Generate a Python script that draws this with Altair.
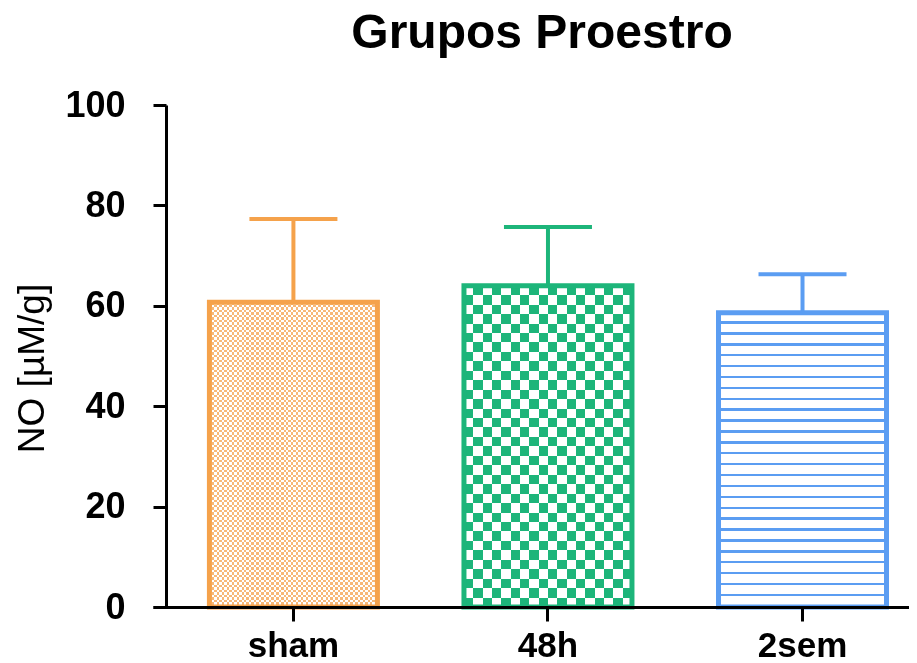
import altair as alt
import pandas as pd

# ---- data ----
groups = ["sham", "48h", "2sem"]
means = [60.7, 64.0, 58.6]
sems = [16.6, 11.7, 7.7]
colors = ["#F5A24B", "#1DB57A", "#5B9DF2"]
y_ticks = [0, 20, 40, 60, 80, 100]

df = pd.DataFrame({"group": groups, "mean": means, "sem": sems})
df["top"] = df["mean"] + df["sem"]

FONT = "Liberation Sans"


def stripes(n, a, b, frac_b, direction):
    stops = []
    for k in range(n):
        s = round(k / n, 5)
        m = round((k + 1 - frac_b) / n, 5)
        e = round((k + 1) / n, 5)
        stops += [
            {"offset": s, "color": a},
            {"offset": m, "color": a},
            {"offset": m, "color": b},
            {"offset": e, "color": b},
        ]
    return {
        "gradient": "linear",
        "stops": stops,
        "x1": 0,
        "y1": 0,
        "x2": 1 if direction == "x" else 0,
        "y2": 1 if direction == "y" else 0,
    }


xaxis = alt.Axis(
    labelAngle=0, tickSize=14, tickWidth=3, tickColor="black",
    domainWidth=3, domainColor="black", labelFontSize=35,
    labelFontWeight="bold", labelFont=FONT, labelColor="black",
    labelPadding=7, title=None, zindex=1,
)
yaxis = alt.Axis(
    values=y_ticks, offset=-13, tickSize=13, tickWidth=3, tickColor="black",
    domainWidth=3, domainColor="black", labelFontSize=36,
    labelFontWeight="bold", labelFont=FONT, labelColor="black",
    labelPadding=28, title="NO [µM/g]", titleFontSize=37,
    titleFontWeight="normal", titleFont=FONT, titleColor="black",
    titlePadding=13, grid=False, zindex=1, titleY=263,
)

X = alt.X("group:N", sort=groups,
          scale=alt.Scale(paddingInner=0.34, paddingOuter=0.155, align=0.715),
          axis=xaxis)
Y = alt.Y("mean:Q", scale=alt.Scale(domain=[0, 100], nice=False), axis=yaxis)

base = alt.Chart(df)


def bars(g, **kw):
    return base.transform_filter(alt.datum.group == g).mark_bar(**kw).encode(x=X, y=Y)


layers = []
# sham: fine orange checker
layers.append(bars("sham", fill=stripes(34, "black", "white", 0.5, "x")))
layers.append(bars("sham", fill=stripes(61, "white", "black", 0.5, "y"), blend="difference"))
layers.append(bars("sham", fill="#F7B878", blend="lighten"))
# 48h: green checker
layers.append(bars("48h", fill=stripes(9, "black", "white", 0.5, "x")))
layers.append(bars("48h", fill=stripes(17, "white", "black", 0.5, "y"), blend="difference"))
layers.append(bars("48h", fill=colors[1], blend="lighten"))
# 2sem: horizontal lines
layers.append(bars("2sem", fill=stripes(27, "white", colors[2], 0.22, "y")))

# outlines and error bars
for g, c in zip(groups, colors):
    layers.append(bars(g, filled=False, color=c, strokeWidth=5, opacity=1))
    sub = base.transform_filter(alt.datum.group == g)
    layers.append(sub.mark_rule(color=c, strokeWidth=4, opacity=1).encode(x=X, y=Y, y2="top:Q"))
    layers.append(sub.mark_tick(color=c, size=88, thickness=4, opacity=1).encode(x=X, y=alt.Y("top:Q")))

chart = alt.layer(*layers).properties(
    width=756,
    height=502,
    title=alt.Title("Grupos Proestro", fontSize=48, fontWeight="bold", font=FONT,
                    anchor="middle", baseline="alphabetic", offset=0, dx=11, dy=9,
                    color="black"),
    autosize=alt.AutoSizeParams(type="none"),
    padding={"left": 145, "top": 97, "right": 0, "bottom": 56},
    background="white",
).configure_view(stroke=None)

chart.save("out.html", embed_options={"renderer": "svg", "actions": False})
